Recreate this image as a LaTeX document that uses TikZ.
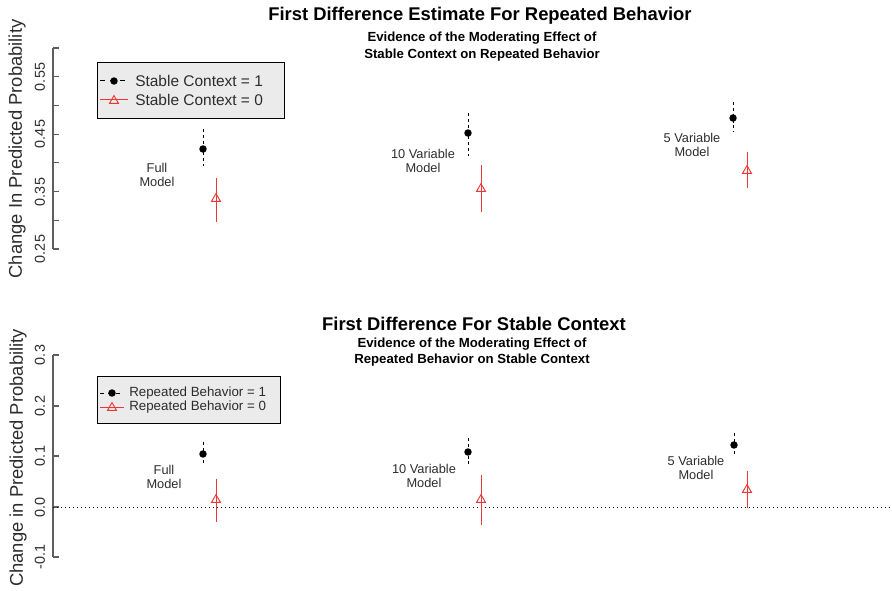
\documentclass[tikz,border=0pt]{standalone}
\usepackage{fontspec}
\setmainfont{Liberation Sans}
\usetikzlibrary{shapes.geometric, positioning}

\definecolor{ink}{RGB}{45,45,45}
\definecolor{axisgray}{RGB}{95,95,95}
\definecolor{estred}{RGB}{236,55,55}
\definecolor{legfill}{RGB}{235,235,235}

\tikzset{
  blackpt/.style={circle, fill=black, inner sep=0pt, minimum size=5.6pt},
  redpt/.style={regular polygon, regular polygon sides=3, draw=estred, line width=0.7pt, inner sep=0pt, minimum size=7.8pt},
  bar1/.style={black, line width=0.75pt, dash pattern=on 2.2pt off 2.2pt},
  bar0/.style={estred, line width=0.75pt},
  axisline/.style={axisgray, line width=0.8pt},
  ticklab/.style={rotate=90, text=ink, font=\fontsize{10.8}{12}\selectfont},
  ylab/.style={rotate=90, text=ink, font=\fontsize{13.8}{15}\selectfont},
  maintitle/.style={font=\bfseries\fontsize{13.8}{15}\selectfont},
  subtitle/.style={align=center, font=\bfseries\fontsize{9.9}{12.5}\selectfont},
  modlab/.style={align=center, text=ink, font=\fontsize{9.6}{11}\selectfont},
  legbox/.style={draw=black, fill=legfill, line width=0.7pt},
  legtext/.style={anchor=west, inner sep=0pt, text=ink}
}

\begin{document}
\begin{tikzpicture}[x=0.75pt, y=-0.75pt]
\useasboundingbox (0,0) rectangle (892,591);

% upper panel
\node[maintitle] (toptitle) at (480,16) {First Difference Estimate For Repeated Behavior};
\node[subtitle] (topsub) at (482,46.5) {Evidence of the Moderating Effect of\\Stable Context on Repeated Behavior};
\node[ylab] (topylab) at (17,149) {Change In Predicted Probability};

\coordinate (topaxhi) at (53,48);
\coordinate (topaxlo) at (53,249);
\draw[axisline] (topaxhi) -- (topaxlo);
\foreach \k in {0,...,7}
  \draw[axisline] (53,{249-28.714*\k}) -- (59,{249-28.714*\k});
\node[ticklab] (tick055) at (40,77) {0.55};
\node[ticklab] (tick045) at (40,134) {0.45};
\node[ticklab] (tick035) at (40,192) {0.35};
\node[ticklab] (tick025) at (40,249) {0.25};

\draw[legbox] (97,62) rectangle (284,118);
\coordinate (topleg1a) at (100,81);
\coordinate (topleg1b) at (125,81);
\coordinate (topleg0a) at (100,100);
\coordinate (topleg0b) at (128,100);
\draw[bar1, dash pattern=on 3.75pt off 3.75pt] (topleg1a) -- (topleg1b);
\draw[bar0] (topleg0a) -- (topleg0b);
\node[blackpt] (topleg1pt) at (114,81) {};
\node[redpt] (topleg0pt) at (114,100.8) {};
\node[legtext, font=\fontsize{11.6}{13}\selectfont] (topleg1) at (135,81) {Stable Context = 1};
\node[legtext, font=\fontsize{11.6}{13}\selectfont] (topleg0) at (135,100) {Stable Context = 0};

\foreach \x/\y/\hi/\lo/\nm in {203/149/129/166/topfull1, 468/133/113/156/topten1, 733/118/102/132/topfive1}{
  \draw[bar1] (\x,\hi) coordinate (\nm hi) -- (\x,\lo) coordinate (\nm lo);
  \node[blackpt] (\nm) at (\x,\y) {};
}
\foreach \x/\y/\hi/\lo/\nm in {216/198/178/222/topfull0, 481/188/165/212/topten0, 747/170/152/188/topfive0}{
  \draw[bar0] (\x,\hi) coordinate (\nm hi) -- (\x,\lo) coordinate (\nm lo);
  \node[redpt] (\nm) at (\x,\y+0.8) {};
}
\node[modlab] (topfulllab) at (157,175) {Full\\Model};
\node[modlab] (toptenlab) at (423,161) {10 Variable\\Model};
\node[modlab] (topfivelab) at (692,145) {5 Variable\\Model};

% lower panel
\node[maintitle] (bottitle) at (474,324) {First Difference For Stable Context};
\node[subtitle] (botsub) at (472,352) {Evidence of the Moderating Effect of\\Repeated Behavior on Stable Context};
\node[ylab] (botylab) at (18,458) {Change in Predicted Probability};

\coordinate (botaxhi) at (53,355);
\coordinate (botaxlo) at (53,557);
\draw[axisline] (botaxhi) -- (botaxlo);
\foreach \v/\y in {0.3/355, 0.2/406, 0.1/456, 0.0/507, -0.1/557}{
  \draw[axisline] (53,\y) -- (59,\y);
  \node[ticklab] at (40,\y) {\v};
}
\coordinate (zeroa) at (53,507);
\coordinate (zerob) at (892,507);
\draw[black, line width=0.6pt, dash pattern=on 0.7pt off 2.3pt] (zeroa) -- (zerob);

\draw[legbox] (97,376) rectangle (280,423);
\coordinate (botleg1a) at (100,393);
\coordinate (botleg1b) at (121,393);
\coordinate (botleg0a) at (100,407);
\coordinate (botleg0b) at (124,407);
\draw[bar1, dash pattern=on 3pt off 3pt] (botleg1a) -- (botleg1b);
\draw[bar0] (botleg0a) -- (botleg0b);
\node[blackpt] (botleg1pt) at (112,393) {};
\node[redpt] (botleg0pt) at (112,407.8) {};
\node[legtext, font=\fontsize{10}{12}\selectfont] (botleg1) at (129,393) {Repeated Behavior = 1};
\node[legtext, font=\fontsize{10}{12}\selectfont] (botleg0) at (129,407) {Repeated Behavior = 0};

\foreach \x/\y/\hi/\lo/\nm in {203/454/442/465/botfull1, 468/452/438/465/botten1, 734/445/433/456/botfive1}{
  \draw[bar1] (\x,\hi) coordinate (\nm hi) -- (\x,\lo) coordinate (\nm lo);
  \node[blackpt] (\nm) at (\x,\y) {};
}
\foreach \x/\y/\hi/\lo/\nm in {216/499/479/522/botfull0, 481/499/475/525/botten0, 747/489/471/508/botfive0}{
  \draw[bar0] (\x,\hi) coordinate (\nm hi) -- (\x,\lo) coordinate (\nm lo);
  \node[redpt] (\nm) at (\x,\y+0.8) {};
}
\node[modlab] (botfulllab) at (164,477) {Full\\Model};
\node[modlab] (bottenlab) at (424,476) {10 Variable\\Model};
\node[modlab] (botfivelab) at (696,468) {5 Variable\\Model};

\end{tikzpicture}
\end{document}
